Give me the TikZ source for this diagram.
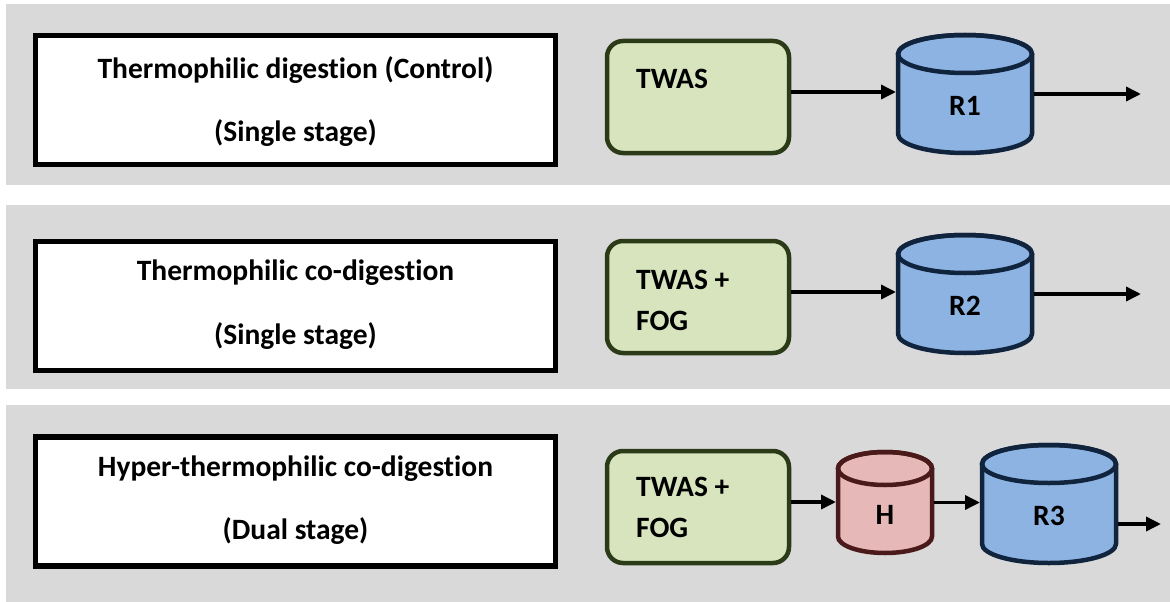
\documentclass[tikz,border=0pt]{standalone}
\usepackage{fontspec}
\setmainfont{Carlito}[Ligatures={NoCommon}]
\usetikzlibrary{arrows.meta,calc}
\definecolor{bandgray}{HTML}{D9D9D9}
\definecolor{greenfill}{HTML}{D7E4BD}
\definecolor{greenline}{HTML}{2B3A17}
\definecolor{bluefill}{HTML}{8DB3E2}
\definecolor{blueline}{HTML}{10243E}
\definecolor{pinkfill}{HTML}{E6B9B8}
\definecolor{pinkline}{HTML}{4A1A1A}
\tikzset{
  band/.style={fill=bandgray,draw=none},
  labelbox/.style={draw=black,fill=white,line width=5.5pt,minimum width=520pt,minimum height=129pt,inner sep=0pt},
  feedbox/.style={draw=greenline,fill=greenfill,line width=4.5pt,rounded corners=16pt,minimum width=182pt,minimum height=112pt,inner sep=0pt},
  txt/.style={font=\fontsize{29.5}{41}\selectfont\bfseries,text=black,inner sep=0pt},
  arr/.style={line width=3.5pt,-{Triangle[length=15pt,width=14pt]}},
  cylspace/.style={draw=none,inner sep=0pt,outer sep=0pt}
}
% #1 name, #2 cx, #3 top, #4 bottom, #5 rx, #6 ry, #7 fill, #8 line, #9 label
\newcommand{\mycyl}[9]{%
  \pgfmathsetmacro\cylw{2*#5+4}%
  \pgfmathsetmacro\cylh{#4-#3+4}%
  \pgfmathsetmacro\cylc{(#3+#4)/2}%
  \pgfmathsetmacro\cyll{(#3+#4)/2+12}%
  \path[fill=#7,draw=#8,line width=4.5pt,line join=round]
    (#2-#5,#3+#6) -- (#2-#5,#4-#6)
    arc[start angle=180,end angle=360,x radius=#5pt,y radius=#6pt]
    -- (#2+#5,#3+#6)
    arc[start angle=0,end angle=180,x radius=#5pt,y radius=#6pt] -- cycle;
  \draw[draw=#8,line width=4.5pt] (#2,#3+#6) ellipse[x radius=#5pt,y radius=#6pt];
  \node[cylspace,minimum width=\cylw pt,minimum height=\cylh pt] (#1) at (#2,\cylc) {};
  \node[txt] (#1lbl) at (#2,\cyll) {#9};
}
\begin{document}
\begin{tikzpicture}[x=1pt,y=-1pt]
\useasboundingbox (0,0) rectangle (1170,602);
% bands
\path[band] (6,4) rectangle (1170,185);
\path[band] (6,205) rectangle (1170,389);
\path[band] (6,405) rectangle (1170,602);
% label boxes
\node[labelbox] (b1) at (295.5,100) {};
\node[txt] (b1a) at (295.5,70) {Thermophilic digestion (Control)};
\node[txt] (b1b) at (295.5,133) {(Single stage)};
\node[labelbox] (b2) at (295.5,306) {};
\node[txt] (b2a) at (295.5,273) {Thermophilic co-digestion};
\node[txt] (b2b) at (295.5,336) {(Single stage)};
\node[labelbox] (b3) at (295.5,501.5) {};
\node[txt] (b3a) at (295.5,469) {Hyper-thermophilic co-digestion};
\node[txt] (b3b) at (295.5,531) {(Dual stage)};
% feed boxes
\node[feedbox] (g1) at (698,97) {};
\node[txt,anchor=west] (g1t) at (636,79) {TWAS};
\node[feedbox] (g2) at (698,297) {};
\node[txt,anchor=west,align=left] (g2t) at (636,300) {TWAS +\\FOG};
\node[feedbox] (g3) at (698,507) {};
\node[txt,anchor=west,align=left] (g3t) at (636,507.5) {TWAS +\\FOG};
% cylinders
\mycyl{r1}{965}{35}{153}{67}{19}{bluefill}{blueline}{R1}
\mycyl{r2}{965}{235}{353}{67}{19}{bluefill}{blueline}{R2}
\mycyl{h}{885}{452}{553}{47}{16.5}{pinkfill}{pinkline}{H}
\mycyl{r3}{1049}{445}{563}{67}{19}{bluefill}{blueline}{R3}
% outlets
\coordinate (o1) at (1141,94);
\coordinate (o2) at (1141,294);
\coordinate (o3) at (1161,524);
% arrows
\draw[arr] ($(g1.east)+(0,-5)$) coordinate (a1) -- (a1 -| r1.west);
\draw[arr] (r1.east) -- (o1);
\draw[arr] ($(g2.east)+(0,-5)$) coordinate (a2) -- (a2 -| r2.west);
\draw[arr] (r2.east) -- (o2);
\draw[arr] ($(g3.east)+(0,-5)$) coordinate (a3) -- (a3 -| h.west);
\draw[arr] (h.east) coordinate (a4) -- (a4 -| r3.west);
\draw[arr] ($(r3.east)+(0,20)$) coordinate (a5) -- (o3);
\end{tikzpicture}
\end{document}
